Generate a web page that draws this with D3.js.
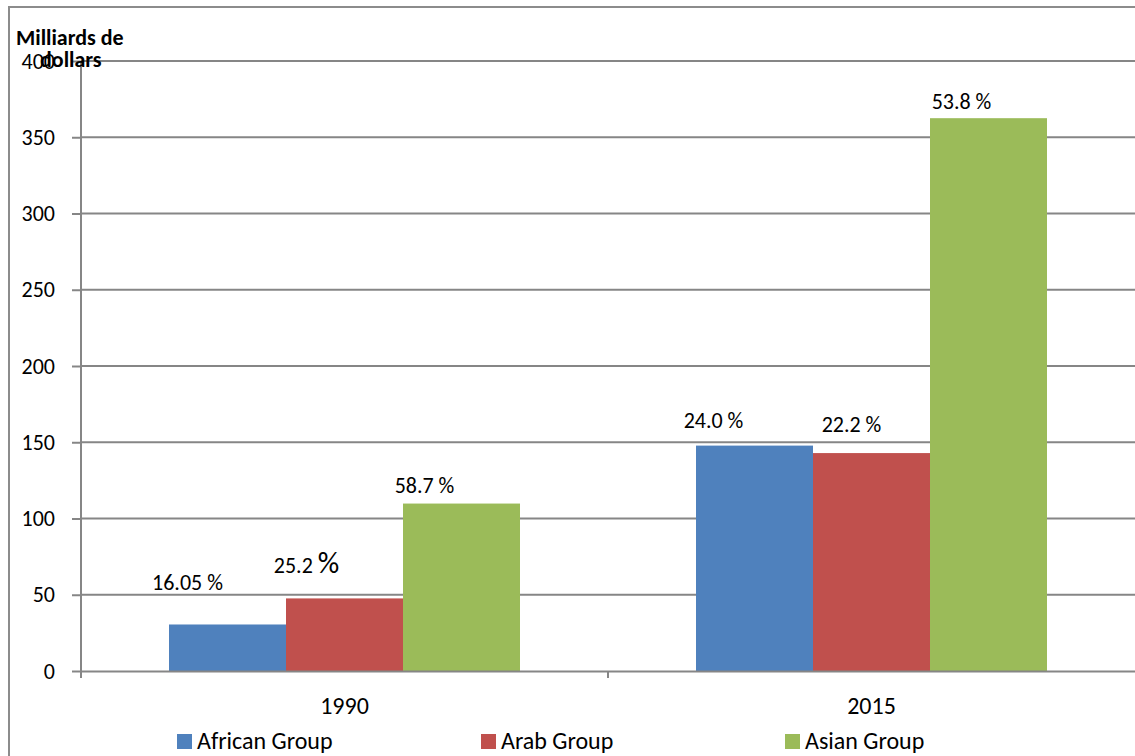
<!DOCTYPE html>
<html>
<head>
<meta charset="utf-8">
<script src="https://cdn.jsdelivr.net/npm/d3@7"></script>
<style>
  body { margin: 0; background: #fff; }
  svg { display: block; font-family: Carlito, Calibri, Lato, "Open Sans", sans-serif; }
</style>
</head>
<body>
<svg id="chart"></svg>
<script>
// data (milliards de dollars)
const years = ["1990", "2015"];
const groups = ["African Group", "Arab Group", "Asian Group"];
const colors = ["#4f81bd", "#c0504d", "#9bbb59"];
const african = [30.5, 147.8];
const arab = [47.6, 142.9];
const asian = [109.8, 362.5];
const shares = [["16.05 %", "25.2 %", "58.7 %"], ["24.0 %", "22.2 %", "53.8 %"]];
// label nudges relative to bar top centre (they were moved by hand in the original)
const labelDx = [[-40, -38, -37], [-41, -20, -27]];
const labelDy = [[34, 25, 11], [18, 21, 9]];
const yTicks = [0, 50, 100, 150, 200, 250, 300, 350, 400];

const W = 1135, H = 756;
const margin = { top: 61, right: 0, bottom: 85, left: 81 };
const width = W - margin.left - margin.right;
const height = H - margin.top - margin.bottom;

const svg = d3.select("#chart").attr("width", W).attr("height", H);

// outer frame (only top and left edges are visible)
svg.append("path")
  .attr("d", `M9,${H} L9,7 L${W},7`)
  .attr("fill", "none").attr("stroke", "#8c8c8c").attr("stroke-width", 2);

const g = svg.append("g").attr("transform", `translate(${margin.left},${margin.top})`);

const x = d3.scaleBand().domain(years).range([0, width]).paddingInner(0).paddingOuter(0);
const xInner = d3.scaleBand().domain(groups).range([88, x.bandwidth() - 88]);
const y = d3.scaleLinear().domain([0, 400]).range([height, 0]);

// gridlines
g.append("g").selectAll("line").data(yTicks.slice(1)).join("line")
  .attr("x1", 0).attr("x2", width)
  .attr("y1", d => y(d)).attr("y2", d => y(d))
  .attr("stroke", "#868686").attr("stroke-width", 2);

const rows = years.map((yr, i) => groups.map((gr, j) => ({
  year: yr, group: gr, j,
  value: [african, arab, asian][j][i],
  label: shares[i][j], dx: labelDx[i][j], dy: labelDy[i][j]
})));

const yearG = g.selectAll(".year").data(rows).join("g")
  .attr("transform", (d, i) => `translate(${x(years[i])},0)`);

yearG.selectAll("rect").data(d => d).join("rect")
  .attr("x", d => xInner(d.group))
  .attr("y", d => y(d.value))
  .attr("width", xInner.bandwidth())
  .attr("height", d => height - y(d.value))
  .attr("fill", d => colors[d.j]);

yearG.selectAll("text").data(d => d).join("text")
  .attr("x", d => xInner(d.group) + xInner.bandwidth() / 2 + d.dx)
  .attr("y", d => y(d.value) - d.dy)
  .attr("text-anchor", "middle")
  .attr("font-size", 22)
  .attr("fill", "#000")
  .each(function(d) {
    const t = d3.select(this);
    if (d.label === "25.2 %") {
      t.append("tspan").text("25.2 ");
      t.append("tspan").attr("font-size", 30).text("%");
    } else {
      t.text(d.label);
    }
  });

// y axis
const yAxis = g.append("g")
  .call(d3.axisLeft(y).tickValues(yTicks).tickSize(9).tickPadding(17))
  .attr("font-family", null).attr("font-size", null);
yAxis.select(".domain").remove();
yAxis.selectAll(".tick line").attr("stroke", "#868686").attr("stroke-width", 2);
yAxis.selectAll(".tick text").attr("font-size", 22).attr("fill", "#000");
yAxis.append("line").attr("x1", 0).attr("x2", 0).attr("y1", 0).attr("y2", height + 7)
  .attr("stroke", "#868686").attr("stroke-width", 2);

// x axis
const xAxis = g.append("g").attr("transform", `translate(0,${height})`)
  .call(d3.axisBottom(x).tickSize(0).tickPadding(26))
  .attr("font-family", null).attr("font-size", null);
xAxis.select(".domain").attr("stroke", "#868686").attr("stroke-width", 2);
xAxis.selectAll(".tick text").attr("font-size", 24).attr("fill", "#000");
xAxis.selectAll(".sep").data(years.slice(1)).join("line")
  .attr("x1", d => x(d)).attr("x2", d => x(d)).attr("y1", 0).attr("y2", 7)
  .attr("stroke", "#868686").attr("stroke-width", 2);

// axis title
const title = svg.append("text").attr("font-weight", "bold").attr("font-size", 22).attr("fill", "#000");
title.append("tspan").attr("x", 16).attr("y", 45).text("Milliards de");
title.append("tspan").attr("x", 40).attr("y", 67).text("dollars");

// legend
const legendX = [177, 481, 785];
const legend = svg.selectAll(".legend").data(groups).join("g")
  .attr("transform", (d, i) => `translate(${legendX[i]},734)`);
legend.append("rect").attr("width", 15).attr("height", 15).attr("fill", (d, i) => colors[i]);
legend.append("text").attr("x", 20).attr("y", 15).attr("font-size", 24).attr("fill", "#000").text(d => d);
</script>
</body>
</html>
